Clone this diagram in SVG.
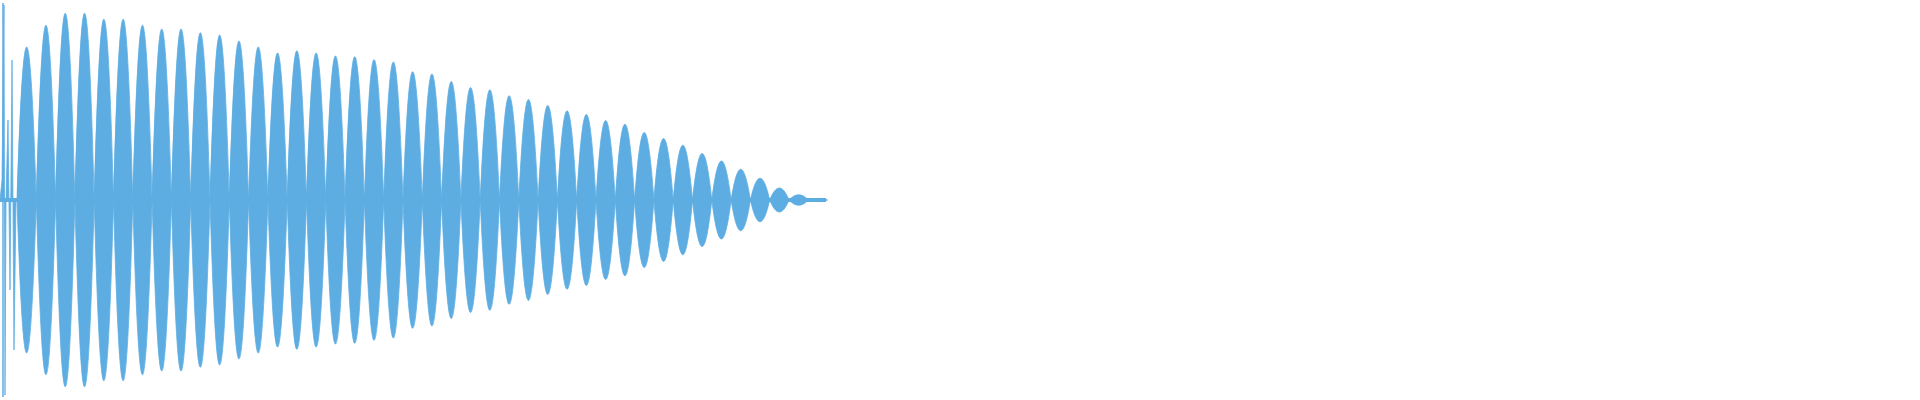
<svg xmlns="http://www.w3.org/2000/svg" width="1920" height="400" viewBox="0 0 1920 400">
<style>.w{fill:#5dade2;stroke:#5dade2;stroke-width:0.8}</style>
<rect width="1920" height="400" fill="#fff"/>
<g id="waveform">
<path class="w" d="M17,200
c6.5,-204 12.8,-204 19.3,0 c6.5,-233 12.8,-233 19.3,0 c6.5,-249 12.8,-249 19.3,0 c6.5,-249 12.8,-249 19.3,0 c6.5,-241 12.8,-241 19.3,0 c6.5,-241 12.8,-241 19.3,0 c6.5,-233 12.8,-233 19.3,0 c6.5,-228 12.8,-228 19.3,0 c6.5,-228 12.8,-228 19.3,0 c6.5,-223 12.8,-223 19.3,0 c6.5,-220 12.8,-220 19.3,0 c6.5,-212 12.8,-212 19.3,0 c6.5,-204 12.8,-204 19.3,0 c6.5,-196 12.8,-196 19.3,0 c6.5,-199 12.8,-199 19.3,0 c6.5,-196 12.8,-196 19.3,0 c6.5,-192 12.8,-192 19.3,0 c6.5,-191 12.8,-191 19.3,0 c6.5,-187 12.8,-187 19.3,0 c6.5,-184 12.8,-184 19.3,0 c6.5,-171 12.8,-171 19.3,0 c6.5,-168 12.8,-168 19.3,0 c6.5,-158 12.8,-158 19.3,0 c6.5,-150 12.8,-150 19.3,0 c6.5,-147 12.8,-147 19.3,0 c6.5,-139 12.8,-139 19.3,0 c6.5,-134 12.8,-134 19.3,0 c6.5,-126 12.8,-126 19.3,0 c6.5,-119 12.8,-119 19.3,0 c6.5,-114 12.8,-114 19.3,0 c6.5,-106 12.8,-106 19.3,0 c6.5,-101 12.8,-101 19.3,0 c6.5,-90 12.8,-90 19.3,0 c6.5,-82 12.8,-82 19.3,0 c6.5,-73 12.8,-73 19.3,0 c6.5,-62 12.8,-62 19.3,0 c6.5,-52 12.8,-52 19.3,0 c6.5,-41 12.8,-41 19.3,0 c6.5,-29 12.8,-29 19.3,0 c6.5,-16 12.8,-16 19.3,0 c6.5,-7 12.8,-7 19.3,0 c6.5,-2 12.8,-2 19.3,0
c-6.5,2 -12.8,2 -19.3,0 c-6.5,7 -12.8,7 -19.3,0 c-6.5,16 -12.8,16 -19.3,0 c-6.5,29 -12.8,29 -19.3,0 c-6.5,41 -12.8,41 -19.3,0 c-6.5,52 -12.8,52 -19.3,0 c-6.5,62 -12.8,62 -19.3,0 c-6.5,73 -12.8,73 -19.3,0 c-6.5,82 -12.8,82 -19.3,0 c-6.5,90 -12.8,90 -19.3,0 c-6.5,101 -12.8,101 -19.3,0 c-6.5,106 -12.8,106 -19.3,0 c-6.5,114 -12.8,114 -19.3,0 c-6.5,119 -12.8,119 -19.3,0 c-6.5,126 -12.8,126 -19.3,0 c-6.5,134 -12.8,134 -19.3,0 c-6.5,139 -12.8,139 -19.3,0 c-6.5,147 -12.8,147 -19.3,0 c-6.5,150 -12.8,150 -19.3,0 c-6.5,158 -12.8,158 -19.3,0 c-6.5,168 -12.8,168 -19.3,0 c-6.5,171 -12.8,171 -19.3,0 c-6.5,184 -12.8,184 -19.3,0 c-6.5,187 -12.8,187 -19.3,0 c-6.5,191 -12.8,191 -19.3,0 c-6.5,192 -12.8,192 -19.3,0 c-6.5,196 -12.8,196 -19.3,0 c-6.5,199 -12.8,199 -19.3,0 c-6.5,196 -12.8,196 -19.3,0 c-6.5,204 -12.8,204 -19.3,0 c-6.5,212 -12.8,212 -19.3,0 c-6.5,220 -12.8,220 -19.3,0 c-6.5,223 -12.8,223 -19.3,0 c-6.5,228 -12.8,228 -19.3,0 c-6.5,228 -12.8,228 -19.3,0 c-6.5,233 -12.8,233 -19.3,0 c-6.5,241 -12.8,241 -19.3,0 c-6.5,241 -12.8,241 -19.3,0 c-6.5,249 -12.8,249 -19.3,0 c-6.5,249 -12.8,249 -19.3,0 c-6.5,233 -12.8,233 -19.3,0 c-6.5,204 -12.8,204 -19.3,0 Z"/>
<rect x="0" y="198" width="826" height="4" fill="#5dade2"/>
<path class="w" d="M0,200 L2,180 L4,5 L5,395 L6,200 L8,120 L10,290 L12,60 L14,350 L16,200 Z"/>
<line x1="3" y1="3" x2="3" y2="397" stroke="#5dade2" stroke-width="1.5"/>
</g>
</svg>
